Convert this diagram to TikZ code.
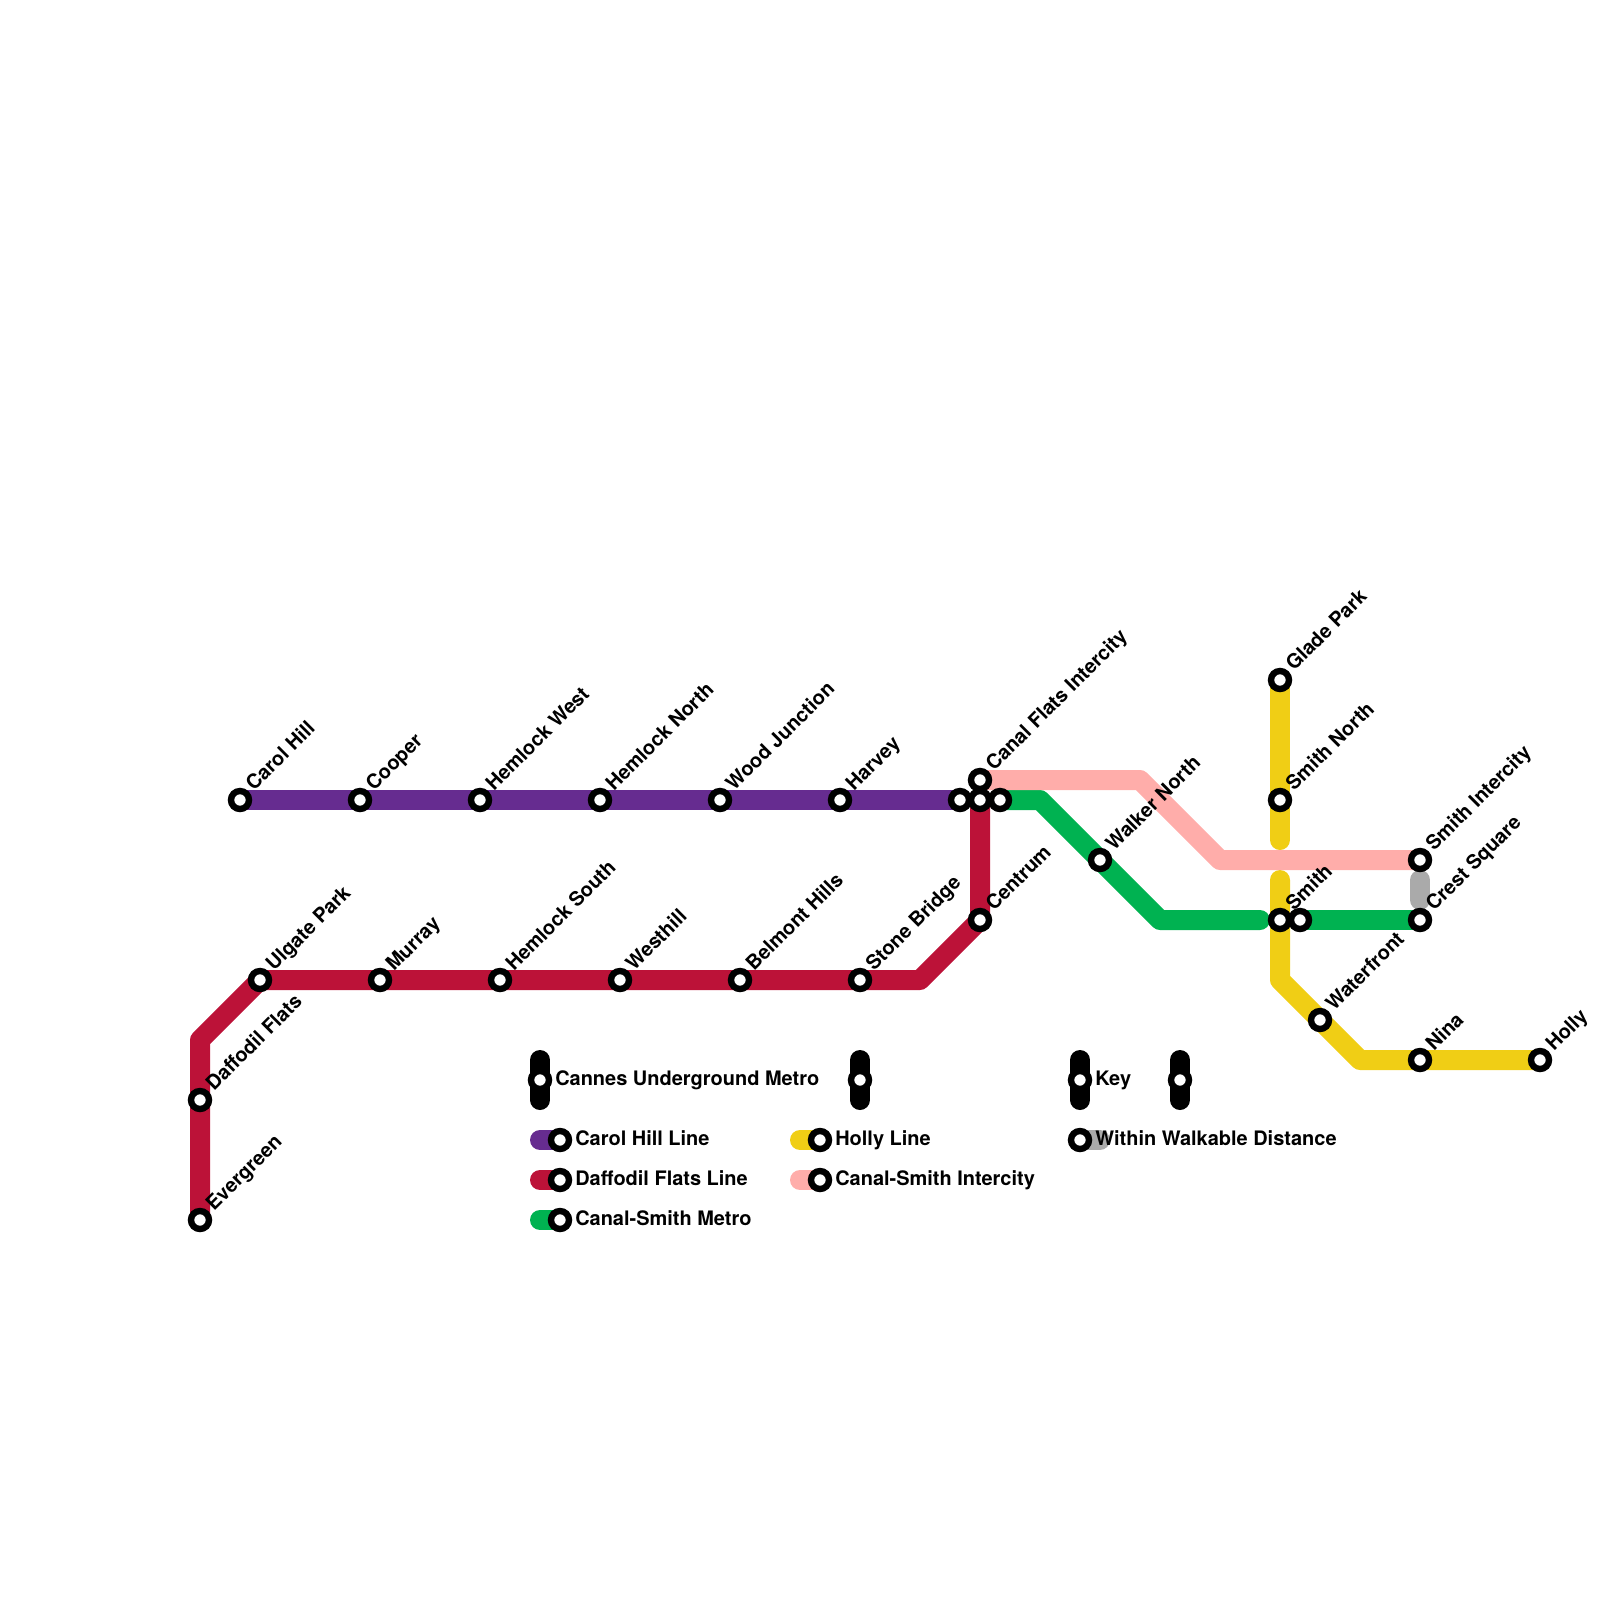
\documentclass[tikz,border=0pt]{standalone}
\usepackage{fontspec}
\setmainfont{TeX Gyre Heros}

\definecolor{carolhill}{HTML}{662C90}
\definecolor{daffodil}{HTML}{BC1238}
\definecolor{canalmetro}{HTML}{00B251}
\definecolor{holly}{HTML}{F0CE15}
\definecolor{intercity}{HTML}{FFADAA}
\definecolor{walkable}{HTML}{AAAAAA}

\tikzset{
    metroline/.style={line width=0.5cm, line cap=round, line join=round},
    stn/.style={circle, draw=black, fill=white, line width=0.16cm, minimum size=0.45cm, inner sep=0pt},
    stnlabel/.style={anchor=base west, rotate=45, inner sep=0pt, font=\bfseries\fontsize{14.2}{14.2}\selectfont},
    keylabel/.style={anchor=base west, inner sep=0pt, font=\bfseries\fontsize{14.2}{14.2}\selectfont},
}

\begin{document}
\begin{tikzpicture}[x=0.5cm, y=-0.5cm]
        \useasboundingbox (0,0) rectangle (80,80);

        % stanice
        \coordinate (CarolHill) at (12,40);
        \coordinate (Cooper) at (18,40);
        \coordinate (HemlockWest) at (24,40);
        \coordinate (HemlockNorth) at (30,40);
        \coordinate (WoodJunction) at (36,40);
        \coordinate (Harvey) at (42,40);
        \coordinate (CentralW) at (48,40);
        \coordinate (CentralM) at (49,40);
        \coordinate (CentralE) at (50,40);
        \coordinate (CanalFlats) at (49,39);
        \coordinate (Centrum) at (49,46);
        \coordinate (StoneBridge) at (43,49);
        \coordinate (BelmontHills) at (37,49);
        \coordinate (Westhill) at (31,49);
        \coordinate (HemlockSouth) at (25,49);
        \coordinate (Murray) at (19,49);
        \coordinate (UlgatePark) at (13,49);
        \coordinate (DaffodilFlats) at (10,55);
        \coordinate (Evergreen) at (10,61);
        \coordinate (WalkerNorth) at (55,43);
        \coordinate (GladePark) at (64,34);
        \coordinate (SmithNorth) at (64,40);
        \coordinate (Smith) at (64,46);
        \coordinate (SmithE) at (65,46);
        \coordinate (SmithIntercity) at (71,43);
        \coordinate (CrestSquare) at (71,46);
        \coordinate (Waterfront) at (66,51);
        \coordinate (Nina) at (71,53);
        \coordinate (Holly) at (77,53);

        % linky
        \draw[metroline, carolhill] (CarolHill) -- (CentralW);
        \draw[metroline, daffodil] (Evergreen) -- (10,52) -- (UlgatePark) -- (46,49) -- (Centrum) -- (CentralM);
        \draw[metroline, canalmetro] (CentralE) -- (52,40) -- (58,46) -- (63,46);
        \draw[metroline, canalmetro] (SmithE) -- (CrestSquare);
        \draw[metroline, holly] (GladePark) -- (64,42);
        \draw[metroline, holly] (64,44) -- (64,49) -- (68,53) -- (Holly);
        \draw[metroline, intercity] (CanalFlats) -- (57,39) -- (61,43) -- (SmithIntercity);
        \draw[metroline, walkable] (71,44) -- (71,45);

        % stanice s popisky
        \foreach \p/\t in {CarolHill/Carol Hill, Cooper/Cooper, HemlockWest/Hemlock West,
            HemlockNorth/Hemlock North, WoodJunction/Wood Junction, Harvey/Harvey,
            CanalFlats/Canal Flats Intercity, Centrum/Centrum, StoneBridge/Stone Bridge,
            BelmontHills/Belmont Hills, Westhill/Westhill, HemlockSouth/Hemlock South,
            Murray/Murray, UlgatePark/Ulgate Park, DaffodilFlats/Daffodil Flats,
            Evergreen/Evergreen, WalkerNorth/Walker North, GladePark/Glade Park,
            SmithNorth/Smith North, Smith/Smith, SmithIntercity/Smith Intercity,
            CrestSquare/Crest Square, Waterfront/Waterfront, Nina/Nina, Holly/Holly} {
            \node[stn] (s\p) at (\p) {};
            \node[stnlabel] (l\p) at ([shift={(0.7,-0.4)}]\p) {\t};
        }
        \foreach \p in {CentralW, CentralE, CentralM, SmithE} {
            \node[stn] (s\p) at (\p) {};
        }

        % legenda, nadpisy
        \foreach \n/\x in {keyA/27, keyB/43, keyC/54, keyD/59} {
            \coordinate (\n) at (\x,54);
            \draw[metroline, black] (\x,53) -- (\x,55);
            \node[stn] (s\n) at (\n) {};
        }
        \node[keylabel] (tkeyA) at (27.75,54.26) {Cannes Underground Metro};
        \node[keylabel] (tkeyC) at (54.75,54.26) {Key};

        % legenda, linky
        \foreach \n/\x/\y/\c/\t in {kCarol/27/57/carolhill/Carol Hill Line,
            kDaffodil/27/59/daffodil/Daffodil Flats Line,
            kMetro/27/61/canalmetro/Canal-Smith Metro,
            kHolly/40/57/holly/Holly Line,
            kIntercity/40/59/intercity/Canal-Smith Intercity} {
            \coordinate (\n) at (\x+1,\y);
            \draw[metroline, \c] (\x,\y) -- (\n);
            \node[stn] (s\n) at (\n) {};
            \node[keylabel] (t\n) at (\x+1.75,\y+0.26) {\t};
        }
        \coordinate (kWalk) at (54,57);
        \draw[metroline, walkable] (kWalk) -- (55,57);
        \node[stn] (skWalk) at (kWalk) {};
        \node[keylabel] (tkWalk) at (54.75,57.26) {Within Walkable Distance};
\end{tikzpicture}
\end{document}
